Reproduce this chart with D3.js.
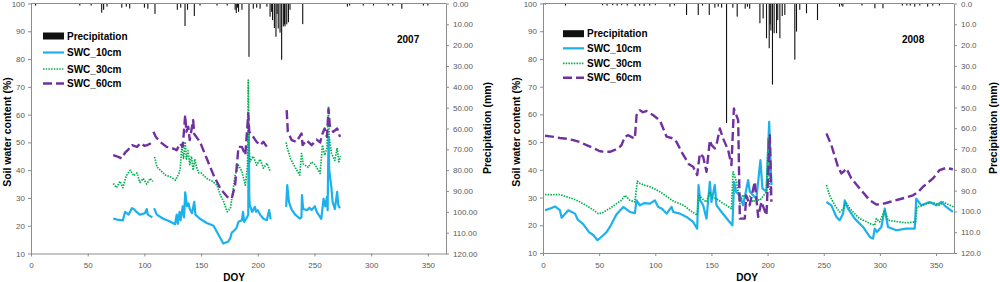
<!DOCTYPE html>
<html>
<head>
<meta charset="utf-8">
<script src="https://cdn.jsdelivr.net/npm/d3@7"></script>
<style>
    body { margin: 0; background: #fff; }
    svg { display: block; font-family: "Liberation Sans", Arial, sans-serif; }
    .tick text { fill: #595959; font-size: 8px; }
    .domain, .tick line { stroke: #8c8c8c; }
</style>
</head>
<body>
<svg id="chart" width="1000" height="282"></svg>
<script>
// Data: [DOY, value]; null marks a gap in the record

const doyTicks = [0, 50, 100, 150, 200, 250, 300, 350];
const swcTicks = [10, 20, 30, 40, 50, 60, 70, 80, 90, 100];
const precipTicks = [0, 10, 20, 30, 40, 50, 60, 70, 80, 90, 100, 110, 120];
const seriesNames = ["Precipitation", "SWC_10cm", "SWC_30cm", "SWC_60cm"];

const precip2007 = [
    [4, 1], [43, 1], [53, 1], [62.3, 4.4], [64, 3], [67, 1.5], [80, 2], [84, 1.5], [87, 2.4],
    [100, 2], [103, 2.5], [109.3, 5], [129, 3], [132, 2], [135.8, 10.8], [138, 3], [144, 6],
    [149, 1], [164, 1], [173, 1], [180, 3], [181, 4.6], [182, 2], [183, 4], [186, 3],
    [192.2, 25.6], [196, 2.5], [199, 2], [202, 2.5], [208, 1.5], [210.8, 6.3], [212.2, 4],
    [213, 8], [214.6, 11.8], [216, 16], [217, 5], [218, 12], [219.6, 14], [221, 27],
    [222.5, 11], [223.5, 10], [224, 11], [225.5, 10], [227, 9], [228.4, 3], [239.6, 9.9],
    [279, 1.5], [281, 1], [293, 1], [302, 1], [315, 1], [319, 1], [327, 2.5], [346, 1], [350, 1]
];

const swc10_2007 = [
    [72.5, 22.6], [76, 22.2], [81, 21.9], [82, 23.5], [83, 25], [86, 24], [89, 26.3], [90.5, 26],
    [93, 25], [96, 24], [100.5, 24.5], [102, 26], [103, 24], [107, 23], null,
    [108.5, 26.3], [111, 24], [116.6, 22.5], [122.6, 21.5], [127, 20.5], [128.5, 24], [129.5, 20.7],
    [131, 25], [132, 22], [133.8, 27], [135, 23], [136, 32], [137.6, 27], [139, 28], [140, 26],
    [142, 24.5], [144, 28.6], [145, 24], [149, 22.5], [155, 21], [161, 20], [165, 17],
    [169.6, 13.6], [174, 14.3], [175.8, 15.6], [177, 17.5], [178.5, 18], [181, 19], [183, 21.4],
    [186, 22], [187, 25], [188, 21.4], [190, 22.6], [191.6, 24], [192, 57], [192.5, 30],
    [193, 27.4], [195, 25], [197.5, 26.8], [198.5, 25], [200, 25.6], [202, 24], [205, 22.5],
    [208, 22], [210, 25.6], [211.4, 22.3], null,
    [225, 26.8], [226, 34.6], [227.5, 28.5], [230, 25.7], [233, 24], [237, 22.6], [238.5, 23],
    [239, 31], [240, 26], [243.5, 25.6], [245.5, 26.5], [247.5, 25.7], [250.4, 27], [252, 25],
    [256, 22.5], [258, 29.7], [259.5, 27], [261, 30.4], [261.6, 25.6], [262.4, 52], [263, 40],
    [265, 33.5], [266, 28.6], [268, 26], [270, 32.2], [271, 27.5], [272.5, 26.3]
];

const swc30_2007 = [
    [72.5, 35.2], [75.5, 33.7], [78.5, 36], [81, 33.7], [84, 38], [87.5, 40], [90.5, 38],
    [93.5, 39], [96, 35.6], [99, 37], [102, 35], [105, 37], [107.5, 36], null,
    [109, 44.8], [111, 41.2], [114, 40], [118.6, 38.2], [123, 37.6], [127.4, 36.4], [130.5, 38.8],
    [131.6, 40.6], [133, 48.4], [134.5, 44.2], [136, 50.2], [137, 44], [138.5, 47], [140, 42],
    [141.5, 45], [143, 40], [144.5, 44], [146, 41], [148, 39], [150, 39], [155, 37], [160, 36],
    [164, 34.6], [167, 31], [170, 28.6], [173, 25], [176, 26.5], [177, 29.4], [180, 38.2],
    [183, 41.8], [186, 39.5], [189, 34.6], [191, 41.8], [191.6, 72.4], [192.3, 50], [193, 43],
    [196, 45], [199, 41.8], [202, 43.9], [205, 40.7], [208, 42.5], [211, 39.7], null,
    [225, 50], [226, 48], [229, 44], [233, 41], [237, 38.2], [238.6, 46], [240, 42.3],
    [244.5, 41], [247.5, 43], [250.4, 42], [255, 38.8], [257, 49], [259, 45.4], [261, 48],
    [262.4, 63], [263, 52], [265, 46], [268, 43.5], [270, 48], [271.5, 43], [273, 45]
];

const swc60_2007 = [
    [72.5, 45.4], [77, 44.8], [80, 44.2], [83, 46.3], [86, 47.5], [89, 49], [93.5, 48.4],
    [96.5, 49.7], [100, 48.8], [102.5, 49], [105, 49.5], [107, 50.2], null,
    [108, 53.8], [110, 52], [113.8, 50.2], [119.6, 48.4], [124, 48], [128.5, 47.2], [131.4, 49.6],
    [133.8, 48.4], [136, 59.8], [137, 53.8], [138.7, 55.6], [140, 50.8], [143, 58], [144, 53],
    [149, 50.2], [155, 44.2], [161, 38.2], [167, 33.4], [173, 30.4], [177, 29.8], [180, 34.6],
    [183, 48.4], [186, 48.4], [189, 45.4], [191.6, 60.4], [192.5, 53.8], [196, 52], [199, 50.2],
    [202, 49], [205, 50.2], [208, 48.4], [211, 49], null,
    [225.5, 61.6], [226.5, 53.8], [230, 50.8], [234, 50.2], [238.6, 53.2], [239.5, 49],
    [243, 50.8], [247.5, 49], [252, 51], [255, 50], [257, 53], [259, 55], [261, 52],
    [262.4, 62], [263.5, 56], [266.6, 53.8], [270, 55], [272.5, 52]
];

const precip2008 = [
    [2, 0.5], [20, 1], [53, 0.8], [57, 1], [62, 0.8], [66, 1], [70, 0.8], [75, 1], [82, 1.3],
    [86, 1], [90, 1.2], [95, 1], [100, 0.8], [113, 1.5], [117, 1], [127.8, 5.5], [138.2, 5.5],
    [142, 1], [148, 5.5], [153, 2], [156, 1.5], [159, 2], [163.4, 57.5], [169, 2], [172.9, 6.3],
    [180, 2.5], [182, 1.5], [184, 2.5], [193.1, 9.5], [196, 7.2], [199, 16.7], [201.4, 21.5],
    [202.2, 10], [202.9, 13], [204.3, 39], [205.8, 14.3], [207.9, 14.3], [209, 8], [210.9, 16.7],
    [213, 6], [215.3, 5.5], [224.2, 27], [225.7, 13.5], [228.6, 3], [234.6, 4.7], [244.4, 8],
    [264, 1.5], [266, 1], [267, 1.5], [284, 1], [295.5, 2.3], [302.7, 2.3], [320, 1], [324, 1],
    [327, 1], [331, 1.5], [335.5, 1], [342.5, 1.5], [347, 1], [353, 1]
];

const swc10_2008 = [
    [1.8, 25.4], [6, 26], [10.7, 26.8], [15, 25.5], [16.6, 22.7], [22.5, 25.4], [28.5, 24.2],
    [31, 22], [35.6, 20.5], [41, 17.5], [45, 16.4], [48.5, 14.6], [53.7, 16.4], [56.7, 17.6],
    [59.6, 19.4], [65.5, 24], [71.5, 26.6], [77.4, 24.8], [81.8, 24.4], [83.3, 29], [86.3, 27.2],
    [90, 28], [95.2, 27.8], [99.6, 29], [102.6, 26.6], [106, 26], [110, 24.2], [114.5, 26.6],
    [116, 24.8], [121.9, 24.2], [127.8, 23], [133.7, 21.2], [137.3, 18.8], [138.5, 34.5],
    [140, 29], [142.6, 27.2], [145.6, 22.4], [148.6, 35.7], [150, 28.4], [153, 34.5],
    [154.5, 27.2], [159, 24.8], [164.9, 21.8], [168.7, 20], [170.2, 35.7], [172, 32],
    [175.3, 30.8], [178.2, 27.2], [182.7, 36.3], [184.2, 32.1], [187.1, 30.8], [190, 29.6],
    [193.6, 43.5], [195.4, 33.3], [199, 32.1], [201.4, 57.3], [203.4, 34.5], null,
    [252.4, 28.4], [256.8, 27.2], [261.3, 23], [264.2, 21.8], [267.2, 24.2], [268.7, 29],
    [271.6, 26], [277.6, 22.4], [285, 19.4], [291, 15.8], [293.9, 15.2], [295.4, 18.8],
    [297.4, 17.6], [301.3, 19.4], [304.3, 26], [307.2, 19.4], [314.6, 18.2], [323.5, 18.8],
    [331, 18.8], [332.4, 29.6], [336.9, 27.2], [344.3, 28.4], [350.2, 27.2], [354.7, 28.4],
    [359.1, 26.6], [365, 24.8]
];

const swc30_2008 = [
    [1.8, 31.1], [8, 31], [15, 31.1], [21, 30.3], [27, 29.5], [33, 28.4], [37, 27.5],
    [41.8, 26.3], [45, 25.5], [49.2, 24.2], [53, 24.5], [56.6, 25.4], [61, 26.5], [65.5, 27.8],
    [70, 29], [73, 30.8], [77.4, 29], [81.8, 28.4], [84, 35.9], [86.3, 35.1], [90, 34.5],
    [95.2, 33.9], [100, 33], [104, 32.1], [108, 31], [113, 29.6], [117, 28.5], [121.9, 27.8],
    [126, 27], [130.8, 25.4], [134, 24.5], [137.3, 23.6], [139, 30.8], [142, 29.5],
    [145.6, 28.4], [148.6, 32.1], [151, 30], [154.5, 29.6], [160, 28], [164, 27], [167.8, 26],
    [169.3, 39.3], [172.3, 35.7], [175.3, 27.8], [178, 31], [181, 29.6], [184, 30.5],
    [187, 28.4], [190, 29.5], [193, 29], [196, 30.5], [199, 32.1], [200.5, 51.3], [201.5, 35],
    [202.5, 30.8], null,
    [252.4, 34.5], [255, 31], [258.3, 28.4], [261, 26.5], [264.2, 24.8], [267.8, 26],
    [269.6, 28.4], [272, 26.8], [274.6, 25.4], [278, 24], [282, 22.4], [287, 21.5], [291, 20.6],
    [295.4, 20], [296.8, 22.4], [299.8, 21.2], [304.3, 25.4], [307.2, 21.8], [312, 21.5],
    [317.6, 21.2], [323.5, 20.9], [331.8, 21.2], [333, 26.6], [337, 27], [341.3, 27.8],
    [347.3, 28.2], [353.2, 27.2], [356.2, 28.4], [361, 27.5], [366, 26.6]
];

const swc60_2008 = [
    [1.8, 52.3], [8, 52], [15.1, 51.5], [21, 51.2], [27, 50.7], [33, 50], [38.8, 48.9],
    [45, 47.8], [50.7, 46.7], [55, 46.5], [59.6, 46.5], [64, 47.2], [68.5, 48.3], [70, 49],
    [73, 52], [76, 52.5], [79, 51.8], [81.8, 51.3], [83.3, 59.7], [86.3, 61.5], [89, 60.8],
    [92.2, 61.2], [95, 60.5], [98.2, 59.7], [101, 58.8], [104, 57.9], [107, 55], [110, 52],
    [116, 51.3], [119, 50], [121.9, 47.7], [124, 46], [127.8, 43.5], [130, 42], [133.7, 41.1],
    [137.3, 38.1], [139.7, 45.9], [142.6, 44.7], [145.6, 39.3], [148.6, 50.7], [150, 49],
    [153, 47.7], [155, 50], [157.5, 54.9], [160.4, 51.3], [164.9, 47.1], [167.8, 41.7],
    [170, 62.1], [173.8, 57.9], [175.3, 22.4], [179.7, 22.4], [181, 30.8], [184, 27.2],
    [188.6, 35.7], [191.6, 23], [194.5, 28.5], [199, 23.6], [202, 52.5], [203.4, 28.5], null,
    [252.4, 53.1], [256.8, 48.9], [262.7, 41.1], [265.7, 38.7], [268, 39.5], [270.2, 40.5],
    [274.6, 36.9], [282, 33.3], [291, 29], [296.8, 27.5], [302, 27.6], [308.7, 28.4],
    [317.6, 29.4], [323, 30], [329.5, 30.8], [334, 32], [338.4, 33.9], [347.3, 36.9],
    [353.2, 39.9], [359, 40.7], [365, 40.2]
];

// Line styles for the three depths
const lineStyles = [
    {color: "#1cb1ec", width: 2.2, dash: null},
    {color: "#00b050", width: 1.7, dash: "1.5,1.2"},
    {color: "#7030a0", width: 2.4, dash: "9,4"}
];

const svg = d3.select("#chart");

/**
 * Draw one year's panel
 */
function drawPanel(cfg) {
    const g = svg.append("g");

    const x = d3.scaleLinear().domain([0, 366]).range([cfg.left, cfg.right]);
    const y = d3.scaleLinear().domain([10, 100]).range([cfg.bottom, cfg.top]);
    const p = d3.scaleLinear().domain([0, 120]).range([cfg.top, cfg.bottom]);

    // SWC lines
    const line = d3.line()
        .defined(d => d !== null)
        .x(d => x(d[0]))
        .y(d => y(d[1]));

    [cfg.swc10, cfg.swc30, cfg.swc60].forEach((series, i) => {
        const s = lineStyles[i];
        g.append("path")
            .datum(series)
            .attr("fill", "none")
            .attr("stroke", s.color)
            .attr("stroke-width", s.width)
            .attr("stroke-dasharray", s.dash)
            .attr("stroke-linejoin", "round")
            .attr("d", line);
    });

    // Precipitation bars hang from the top
    g.append("g")
        .selectAll("rect")
        .data(cfg.precip)
        .join("rect")
        .attr("x", d => x(d[0]) - 0.5)
        .attr("y", p(0))
        .attr("width", 1.1)
        .attr("height", d => p(d[1]) - p(0))
        .attr("fill", "#111");

    // Axes
    g.append("g")
        .attr("transform", `translate(${cfg.left}, 0)`)
        .call(d3.axisLeft(y).tickValues(swcTicks).tickSize(3).tickSizeOuter(0).tickPadding(3));

    g.append("g")
        .attr("transform", `translate(0, ${cfg.bottom})`)
        .call(d3.axisBottom(x).tickValues(doyTicks).tickSize(3).tickSizeOuter(0).tickPadding(6));

    g.append("g")
        .attr("transform", `translate(${cfg.right}, 0)`)
        .call(d3.axisRight(p).tickValues(precipTicks).tickFormat(d3.format(cfg.precipFmt))
            .tickSize(3).tickSizeOuter(0).tickPadding(4));

    g.append("line")
        .attr("x1", cfg.left).attr("x2", cfg.right)
        .attr("y1", cfg.top).attr("y2", cfg.top)
        .attr("stroke", "#8c8c8c");

    // Axis titles
    g.append("text")
        .attr("transform", `translate(${cfg.yTitleX}, 132) rotate(-90)`)
        .attr("text-anchor", "middle")
        .attr("dominant-baseline", "central")
        .attr("font-size", 10.5)
        .attr("font-weight", "bold")
        .text("Soil water content (%)");

    g.append("text")
        .attr("transform", `translate(${cfg.pTitleX}, 128) rotate(-90)`)
        .attr("text-anchor", "middle")
        .attr("dominant-baseline", "central")
        .attr("font-size", 10.5)
        .attr("font-weight", "bold")
        .text("Precipitation (mm)");

    g.append("text")
        .attr("x", cfg.doyX)
        .attr("y", 277)
        .attr("text-anchor", "middle")
        .attr("dominant-baseline", "central")
        .attr("font-size", 10)
        .attr("font-weight", "bold")
        .text("DOY");

    g.append("text")
        .attr("x", cfg.yearX)
        .attr("y", cfg.yearY)
        .attr("dominant-baseline", "central")
        .attr("font-size", 10)
        .attr("font-weight", "bold")
        .text(cfg.year);

    // Legend
    const lx = cfg.legendX;
    seriesNames.forEach((name, i) => {
        const ly = cfg.legendY[i];
        if (i === 0) {
            g.append("rect")
                .attr("x", lx).attr("y", ly - 3.5)
                .attr("width", 21).attr("height", 7)
                .attr("fill", "#111");
        } else {
            const s = lineStyles[i - 1];
            g.append("line")
                .attr("x1", lx).attr("x2", lx + 21)
                .attr("y1", ly).attr("y2", ly)
                .attr("stroke", s.color)
                .attr("stroke-width", s.width)
                .attr("stroke-dasharray", s.dash);
        }
        g.append("text")
            .attr("x", lx + 24)
            .attr("y", ly)
            .attr("dominant-baseline", "central")
            .attr("font-size", 10)
            .attr("font-weight", "bold")
            .text(name);
    });
}

drawPanel({
    year: "2007", left: 31, right: 446, top: 3.5, bottom: 253.5, precipFmt: ".2f",
    swc10: swc10_2007, swc30: swc30_2007, swc60: swc60_2007, precip: precip2007,
    legendX: 43, legendY: [36, 52.5, 69, 83.5], yearX: 397, yearY: 39, yTitleX: 7, pTitleX: 487,
    doyX: 234
});

drawPanel({
    year: "2008", left: 543, right: 954, top: 3.5, bottom: 253, precipFmt: ".1f",
    swc10: swc10_2008, swc30: swc30_2008, swc60: swc60_2008, precip: precip2008,
    legendX: 563, legendY: [33.7, 48.3, 63.3, 77.7], yearX: 902, yearY: 39, yTitleX: 516, pTitleX: 993,
    doyX: 747
});
</script>
</body>
</html>
